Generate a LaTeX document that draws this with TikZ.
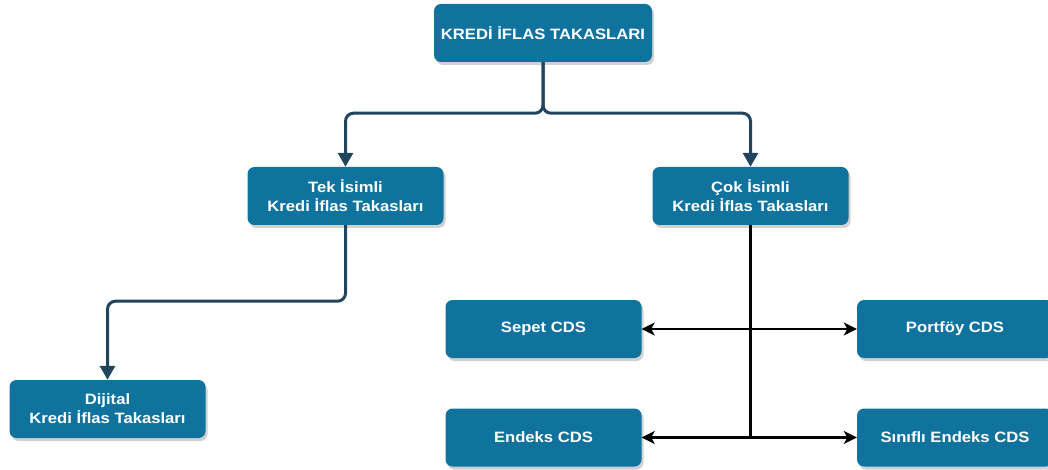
\documentclass[tikz,border=0pt]{standalone}
\usepackage{fontspec}
\newfontfamily\boxfont[FakeStretch=1.11]{Liberation Sans}
\usetikzlibrary{arrows.meta,shadows}
\definecolor{boxblue}{HTML}{10739E}
\definecolor{navy}{HTML}{23445D}
\tikzset{
  box/.style={rectangle, rounded corners=7pt, fill=boxblue, text=white,
    minimum width=196pt, minimum height=58pt, align=center, inner sep=0pt,
    font=\boxfont\bfseries\fontsize{15}{19}\selectfont,
    drop shadow={shadow xshift=2pt, shadow yshift=-3pt, opacity=0.3, fill=black!60}},
  navyline/.style={draw=navy, line width=3pt, rounded corners=8pt,
    -{Triangle[length=14pt,width=15pt]}},
  blackline/.style={draw=black, line width=2.5pt},
  blackarrow/.style={blackline, {Stealth[length=13pt,width=13pt,inset=3.5pt]}-{Stealth[length=13pt,width=13pt,inset=3.5pt]}}
}
\begin{document}
\begin{tikzpicture}[x=1pt,y=-1pt]
\useasboundingbox (0,0) rectangle (1048,470);
\node[box, minimum width=218pt] (top) at (543,33) {KREDİ İFLAS TAKASLARI};
\node[box] (tek) at (345.5,196) {Tek İsimli\\Kredi İflas Takasları};
\node[box] (cok) at (750.5,196) {Çok İsimli\\Kredi İflas Takasları};
\node[box] (dij) at (107.5,409) {Dijital\\Kredi İflas Takasları};
\node[box] (sepet) at (543.5,329) {Sepet CDS};
\node[box] (portfoy) at (955,329) {Portföy CDS};
\node[box] (endeks) at (543.5,437.5) {Endeks CDS};
\node[box] (sinifli) at (955,437.5) {Sınıflı Endeks CDS};
\coordinate (j) at (cok.south |- endeks.east);
\draw[navyline] (top.south) -- ++(0,51) -| (tek.north);
\draw[navyline] (top.south) -- ++(0,51) -| (cok.north);
\draw[navyline] (tek.south) -- ++(0,76) -| (dij.north);
\draw[blackline] (cok.south) -- (j);
\draw[blackarrow] (sepet.east) -- (portfoy.west);
\draw[blackarrow] (endeks.east) -- (sinifli.west);
\end{tikzpicture}
\end{document}
